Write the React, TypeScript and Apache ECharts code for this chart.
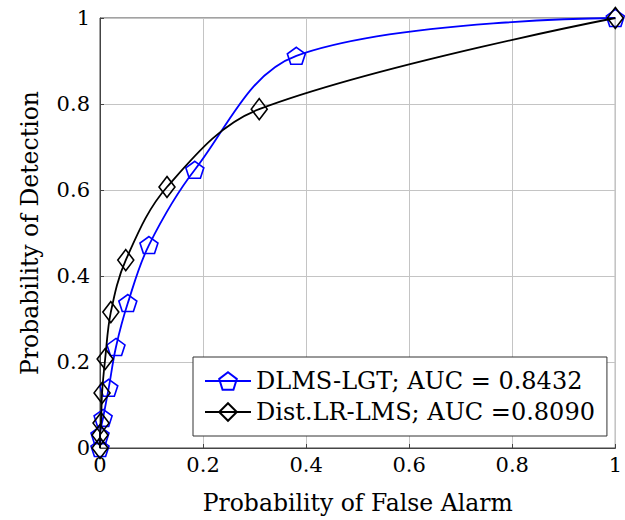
import React, { useEffect, useRef } from "react";
import * as echarts from "echarts";

const xTicks = [0, 0.2, 0.4, 0.6, 0.8, 1];
const yTicks = [0, 0.2, 0.4, 0.6, 0.8, 1];

const dlmsName = "DLMS-LGT; AUC = 0.8432";
const dlmsX = [0, 0.0, 0.006, 0.017, 0.031, 0.054, 0.095, 0.184, 0.381, 1];
const dlmsY = [0, 0.03, 0.07, 0.14, 0.235, 0.337, 0.472, 0.647, 0.912, 1];

const distName = "Dist.LR-LMS; AUC =0.8090";
const distX = [0, 0.0, 0.002, 0.004, 0.01, 0.021, 0.05, 0.13, 0.309, 1];
const distY = [0, 0.03, 0.058, 0.128, 0.207, 0.316, 0.437, 0.607, 0.788, 1];

const FONT = "DejaVu Serif";
const pentagon = "path://M0,-1L0.951,-0.309L0.588,0.809L-0.588,0.809L-0.951,-0.309Z";
const diamond = "path://M0,-1L0.75,0L0,1L-0.75,0Z";

export default function App() {
  const ref = useRef<HTMLDivElement>(null);
  useEffect(() => {
    if (!ref.current) return;
    const chart = echarts.init(ref.current, null, { renderer: "svg" });
    const zip = (xs: number[], ys: number[]) => xs.map((x, i) => [x, ys[i]]);
    chart.setOption({
      animation: false,
      backgroundColor: "#fff",
      textStyle: { fontFamily: FONT },
      grid: {
        left: 100,
        right: 8,
        top: 18,
        bottom: 72,
        show: true,
        borderColor: "#444",
        borderWidth: 1,
        backgroundColor: "transparent",
      },
      xAxis: {
        type: "value",
        min: xTicks[0],
        max: xTicks[xTicks.length - 1],
        interval: 0.2,
        name: "Probability of False Alarm",
        nameLocation: "middle",
        nameGap: 43,
        nameTextStyle: { fontFamily: FONT, fontSize: 23.5, color: "#000" },
        axisLine: { lineStyle: { color: "#444", width: 1 } },
        axisTick: { inside: true, length: 4, lineStyle: { color: "#444" } },
        axisLabel: { fontFamily: FONT, fontSize: 21, color: "#000", margin: 6 },
        splitLine: { lineStyle: { color: "#c4c4c4", width: 1 } },
      },
      yAxis: {
        type: "value",
        min: yTicks[0],
        max: yTicks[yTicks.length - 1],
        interval: 0.2,
        name: "Probability of Detection",
        nameLocation: "middle",
        nameGap: 58,
        nameTextStyle: { fontFamily: FONT, fontSize: 23.5, color: "#000" },
        axisLine: { lineStyle: { color: "#444", width: 1 } },
        axisTick: { inside: true, length: 4, lineStyle: { color: "#444" } },
        axisLabel: { fontFamily: FONT, fontSize: 21, color: "#000", margin: 10 },
        splitLine: { lineStyle: { color: "#c4c4c4", width: 1 } },
      },
      legend: {
        orient: "vertical",
        left: 193,
        top: 357,
        padding: [12, 12, 12, 11],
        itemGap: 7,
        itemWidth: 46,
        itemHeight: 22,
        backgroundColor: "#fff",
        borderColor: "#333",
        borderWidth: 1,
        borderRadius: 0,
        textStyle: { fontFamily: FONT, fontSize: 24, color: "#000", width: 333 },
        data: [dlmsName, distName],
      },
      series: [
        {
          name: distName,
          type: "line",
          data: zip(distX, distY),
          smooth: 0.35,
          symbol: diamond,
          symbolSize: [16, 21],
          lineStyle: { color: "#000", width: 1.8 },
          itemStyle: { color: "rgba(255,255,255,0)", borderColor: "#000", borderWidth: 1.6 },
          z: 2,
        },
        {
          name: dlmsName,
          type: "line",
          data: zip(dlmsX, dlmsY),
          smooth: 0.35,
          symbol: pentagon,
          symbolSize: [18, 17],
          lineStyle: { color: "#0000ff", width: 1.8 },
          itemStyle: { color: "rgba(255,255,255,0)", borderColor: "#0000ff", borderWidth: 1.6 },
          z: 1,
        },
      ],
    });
    return () => chart.dispose();
  }, []);
  return (
    <div
      ref={ref}
      style={{ position: "fixed", left: 0, top: 0, width: 625, height: 520 }}
    />
  );
}
